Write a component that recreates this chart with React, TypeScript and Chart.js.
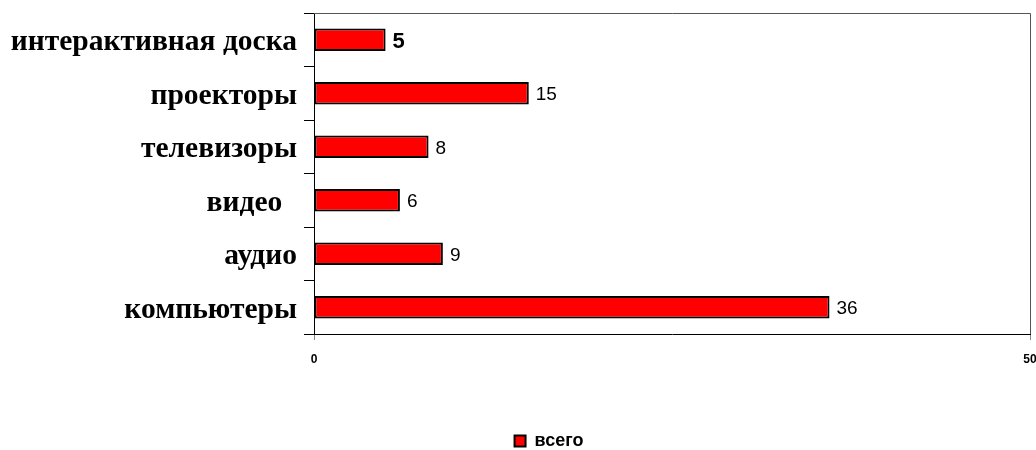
import React, { useEffect, useRef } from "react";
import { Chart, registerables } from "chart.js";

Chart.register(...registerables);

const categories = ["интерактивная доска", "проекторы", "телевизоры", "видео  ", "аудио", "компьютеры"];
const seriesLabel = "всего";
const values = [5, 15, 8, 6, 9, 36];
const boldValueIndex = [0];
const xMin = 0;
const xMax = 50;
const xStep = 50;

const W = 1036;
const H = 450;

export default function App() {
  const ref = useRef<HTMLCanvasElement | null>(null);

  useEffect(() => {
    const canvas = ref.current;
    if (!canvas) return;

    const valueLabels = {
      id: "valueLabels",
      afterDatasetsDraw(chart: any) {
        const ctx = chart.ctx;
        const meta = chart.getDatasetMeta(0);
        ctx.save();
        ctx.textBaseline = "middle";
        ctx.textAlign = "left";
        ctx.fillStyle = "#000";
        meta.data.forEach((bar: any, i: number) => {
          const bold = boldValueIndex.includes(i);
          ctx.font = bold ? "bold 22px 'Liberation Sans', Arial, sans-serif" : "19px 'Liberation Sans', Arial, sans-serif";
          ctx.fillText(String(values[i]), bar.x + 7, bar.y + 2);
        });
        ctx.restore();
      },
    };

    const frame = {
      id: "frame",
      afterLayout(chart: any) {
        if (chart.legend) {
          chart.legend.left += 34;
          chart.legend.right += 34;
        }
      },
      afterDraw(chart: any) {
        const { ctx, chartArea } = chart;
        ctx.save();
        ctx.strokeStyle = "#555";
        ctx.lineWidth = 1;
        ctx.beginPath();
        ctx.moveTo(chartArea.left, chartArea.top + 0.5);
        ctx.lineTo(chartArea.right + 0.5, chartArea.top + 0.5);
        ctx.lineTo(chartArea.right + 0.5, chartArea.bottom);
        ctx.stroke();
        ctx.restore();
      },
    };

    const chart = new Chart(canvas, {
      type: "bar",
      data: {
        labels: categories,
        datasets: [
          {
            label: seriesLabel,
            data: values,
            backgroundColor: "#ff0000",
            borderColor: "#000000",
            borderWidth: 2,
            borderSkipped: false,
            barPercentage: 0.42,
            categoryPercentage: 1,
          },
        ],
      },
      options: {
        indexAxis: "y",
        responsive: false,
        animation: false,
        layout: { padding: { top: 13, right: 6, left: 0, bottom: -10 } },
        scales: {
          x: {
            min: xMin,
            max: xMax,
            ticks: {
              stepSize: xStep,
              color: "#000",
              font: { family: "'Liberation Sans', Arial, sans-serif", size: 12, weight: "bold" },
              padding: 12,
              maxRotation: 0,
            },
            grid: {
              drawOnChartArea: false,
              drawTicks: true,
              tickLength: 6,
              color: "#888",
            },
            border: { color: "#000", width: 1 },
            afterFit(scale: any) {
              scale.height = 94;
              scale.paddingLeft = 0;
              scale.paddingRight = 0;
            },
          },
          y: {
            ticks: {
              color: "#000",
              font: { family: "'Liberation Serif', 'Times New Roman', serif", size: 29.5, weight: "bold" },
              padding: 7,
              labelOffset: 3,
              autoSkip: false,
            },
            grid: {
              offset: true,
              drawOnChartArea: false,
              drawTicks: true,
              tickLength: 10,
              color: "#000",
            },
            border: { color: "#000", width: 1 },
            afterFit(scale: any) {
              scale.width = 314;
              scale.paddingTop = 0;
              scale.paddingBottom = 0;
            },
          },
        },
        plugins: {
          legend: {
            display: true,
            position: "bottom",
            labels: {
              boxWidth: 11,
              boxHeight: 11,
              padding: 4,
              color: "#000",
              font: { family: "'Liberation Sans', Arial, sans-serif", size: 18, weight: "bold" },
            },
          },
          tooltip: { enabled: false },
        },
      },
      plugins: [valueLabels, frame],
    } as any);

    return () => chart.destroy();
  }, []);

  return (
    <div style={{ position: "absolute", left: 0, top: 0, width: W, height: H, background: "#fff" }}>
      <canvas ref={ref} width={W} height={H} style={{ display: "block" }} />
    </div>
  );
}
